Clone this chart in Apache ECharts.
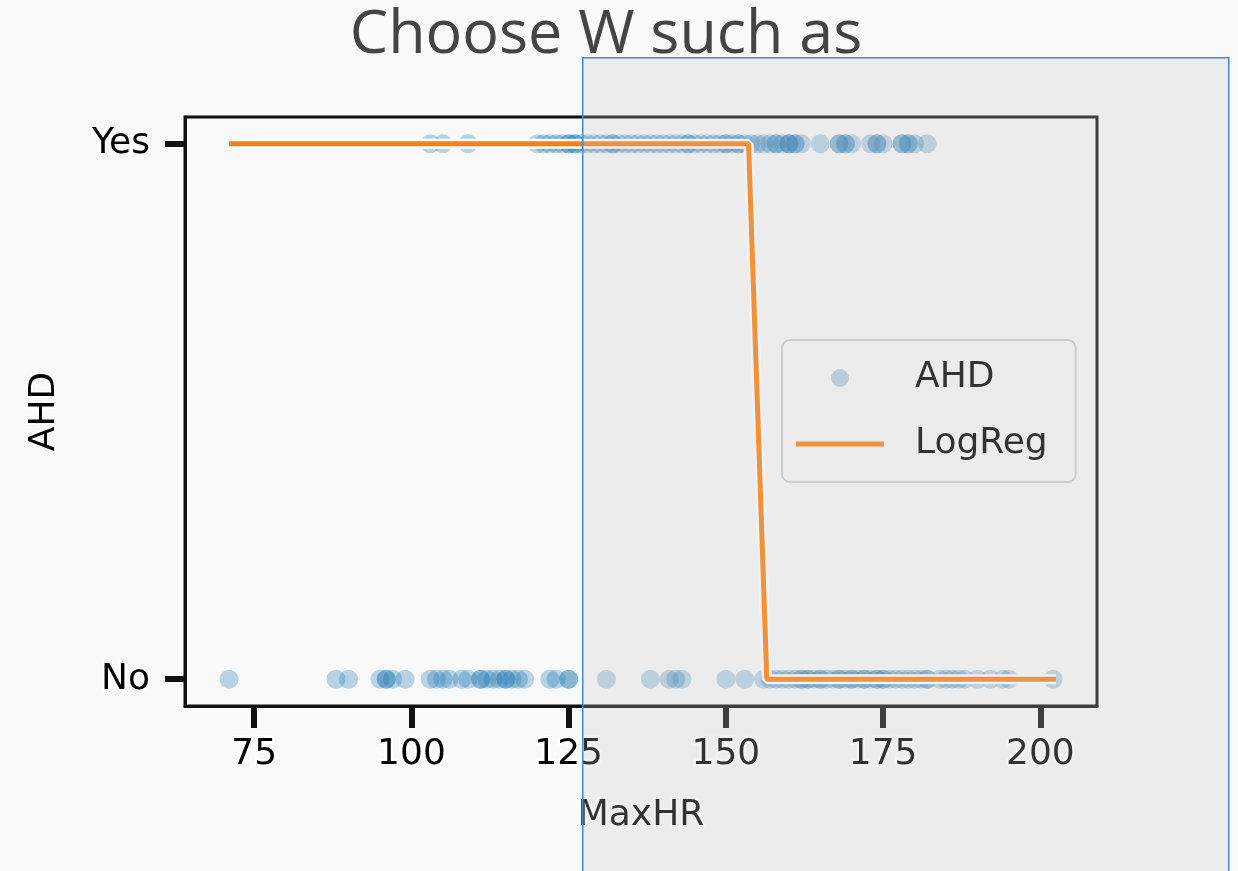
<!DOCTYPE html>
<html>
<head>
<meta charset="utf-8">
<script src="https://cdn.jsdelivr.net/npm/echarts@6/dist/echarts.min.js"></script>
<style>
html,body{margin:0;padding:0;background:#f9f9f9;}
#chart{width:1238px;height:871px;}
</style>
</head>
<body>
<div id="chart"></div>
<script>
// MaxHR values for AHD = Yes (1) and AHD = No (0)
const yesMaxHR = [103,105,109,120,121,122,123,124,125,125,126,126,127,128,129,130,131,132,132,133,134,135,136,137,138,139,140,141,142,143,144,144,145,146,147,148,149,150,150,151,152,152,153,154,155,156,157,158,158,159,160,160,160,161,161,162,165,168,168,169,169,170,173,174,174,175,178,178,179,179,180,182];
const noMaxHR = [71,88,90,95,96,96,97,99,103,104,105,106,108,109,111,111,112,113,114,115,115,116,117,118,122,123,125,125,131,138,141,142,143,150,153,156,157,158,159,160,161,162,162,163,163,164,165,165,166,167,168,168,169,170,170,171,172,172,173,174,174,175,175,176,177,178,179,180,181,182,182,184,185,186,187,188,190,192,194,195,202];
// Logistic regression prediction (steep step)
const logRegX = [71, 153.6, 156.5, 202.5];
const logRegY = [1, 1, 0, 0];
const xTicks = [75, 100, 125, 150, 175, 200];
const yTicks = [0, 1];
const yTickLabels = {0: 'No', 1: 'Yes'};
const titleText = 'Choose W such as';

const ahdData = yesMaxHR.map(v => [v, 1]).concat(noMaxHR.map(v => [v, 0]));
const lrData = logRegX.map((x, i) => [x, logRegY[i]]);

const handFont = '"DejaVu Sans", sans-serif';
const chart = echarts.init(document.getElementById('chart'));
chart.setOption({
  backgroundColor: '#f9f9f9',
  animation: false,
  title: {
    text: titleText,
    left: 601, top: 0, textAlign: 'center',
    textStyle: {fontFamily: '"Open Sans", sans-serif', fontSize: 61, fontWeight: 'normal', color: '#444'}
  },
  grid: {left: 185, right: 141, top: 117, bottom: 165, show: true, borderColor: '#111', borderWidth: 3, backgroundColor: '#f9f9f9'},
  xAxis: {
    type: 'value', min: 64, max: 209,
    name: 'MaxHR', nameLocation: 'middle', nameGap: 92,
    nameTextStyle: {fontFamily: handFont, fontSize: 36, color: '#000', textBorderColor: '#fff', textBorderWidth: 4},
    axisLine: {show: true, onZero: false, lineStyle: {color: '#111', width: 3}},
    splitLine: {show: false},
    axisTick: {show: true, customValues: xTicks, length: 22, inside: false, lineStyle: {color: '#111', width: 6}},
    axisLabel: {customValues: xTicks, fontFamily: handFont, fontSize: 36, color: '#000', margin: 31, textBorderColor: '#fff', textBorderWidth: 5}
  },
  yAxis: {
    type: 'value', min: -0.05, max: 1.05,
    name: 'AHD', nameLocation: 'middle', nameGap: 122, nameRotate: 90,
    nameTextStyle: {fontFamily: handFont, fontSize: 36, color: '#000', textBorderColor: '#fff', textBorderWidth: 4},
    axisLine: {show: true, onZero: false, lineStyle: {color: '#111', width: 3}},
    splitLine: {show: false},
    axisTick: {show: true, customValues: yTicks, length: 20, lineStyle: {color: '#111', width: 6}},
    axisLabel: {customValues: yTicks, formatter: v => yTickLabels[Math.round(v)], fontFamily: handFont, fontSize: 36, color: '#000', margin: 35, textBorderColor: '#fff', textBorderWidth: 5}
  },
  legend: {
    orient: 'vertical', left: 782, top: 340,
    data: [
      {name: 'AHD', icon: 'circle'},
      {name: 'LogReg', icon: 'path://M0,0 L88,0 L88,5 L0,5 Z'}
    ],
    symbolKeepAspect: true,
    itemWidth: 88, itemHeight: 18, itemGap: 30,
    padding: [20, 28, 20, 14],
    backgroundColor: 'rgba(246,246,246,0.9)', borderColor: '#ccc', borderWidth: 2, borderRadius: 8,
    textStyle: {fontFamily: handFont, fontSize: 36, color: '#000', padding: [0, 0, 0, 26]}
  },
  series: [
    {
      type: 'line', data: lrData, symbol: 'none', silent: true, z: 3,
      lineStyle: {color: '#ffffff', width: 10}
    },
    {
      name: 'AHD', type: 'scatter', data: ahdData, symbolSize: 19, z: 2,
      itemStyle: {color: '#1f77b4', opacity: 0.3}
    },
    {
      name: 'LogReg', type: 'line', data: lrData, symbol: 'none', z: 4,
      lineStyle: {color: '#ff7f0e', width: 5}, itemStyle: {color: '#ff7f0e'}
    }
  ],
  graphic: [{
    type: 'rect', left: 582, top: 57, z: 100, silent: true,
    shape: {width: 646, height: 840},
    style: {fill: 'rgba(200,200,200,0.25)', stroke: '#4f86c6', lineWidth: 1.5}
  }]
});
</script>
</body>
</html>
